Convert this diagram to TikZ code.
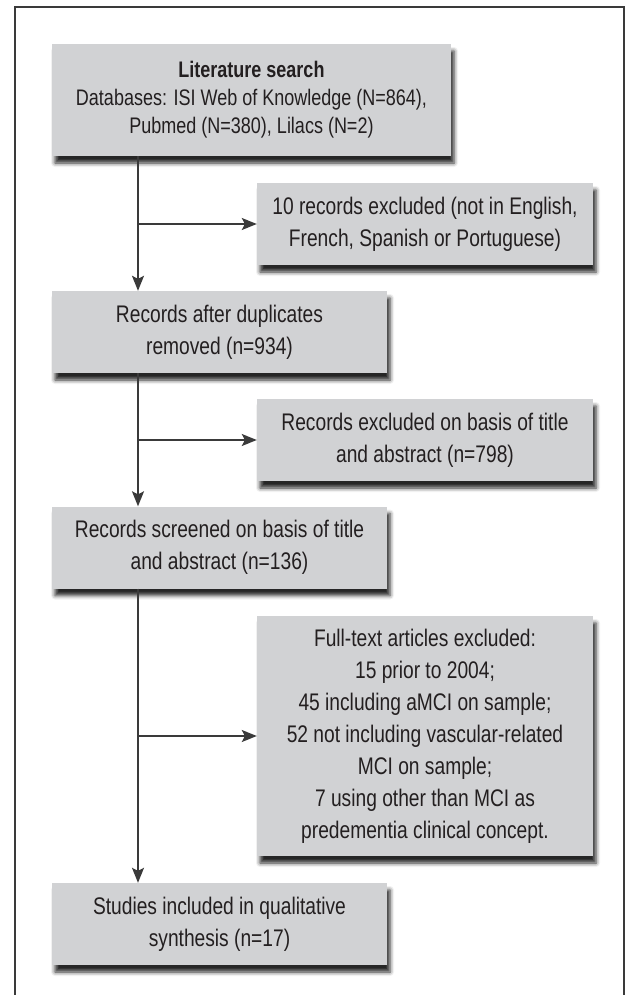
\documentclass[tikz,border=0pt]{standalone}
\usepackage{fontspec}
\setmainfont{Liberation Sans}[FakeStretch=0.8]
\usepackage{tikz}
\usetikzlibrary{arrows.meta, positioning, shadows.blur}
\definecolor{boxgray}{HTML}{D1D2D4}
\definecolor{inkgray}{HTML}{231F20}
\definecolor{linegray}{HTML}{3A3A3A}
\tikzset{>={Stealth[length=15pt,width=12pt,inset=3pt]}}
\tikzset{
  flowbox/.style={fill=boxgray, text=inkgray, align=center, inner sep=0pt,
    font=\fontsize{24}{32}\selectfont,
    blur shadow={shadow xshift=3pt, shadow yshift=-7pt, shadow blur radius=4pt, shadow opacity=85}},
  leftbox/.style={flowbox, minimum width=335pt, minimum height=82pt},
  rightbox/.style={flowbox, minimum width=336pt, minimum height=82pt},
  flowline/.style={draw=linegray, line width=1.4pt}
}
\begin{document}
\begin{tikzpicture}[x=1pt, y=-1pt]
        \useasboundingbox (0,0) rectangle (630,995);
        \draw[line width=1.6pt, draw=linegray] (15,996) -- (15,7) -- (624,7) -- (624,996);

        \node[flowbox, minimum width=399pt, minimum height=112pt, font=\fontsize{22.5}{28}\selectfont] (search) at (251.5,100)
          {\textbf{Literature search}\\Databases: ISI Web of Knowledge (N=864),\\Pubmed (N=380), Lilacs (N=2)};
        \node[rightbox] (lang) at (425,224) {10 records excluded (not in English,\\French, Spanish or Portuguese)};
        \node[leftbox] (dup) at (219.5,332) {Records after duplicates\\removed (n=934)};
        \node[rightbox] (title) at (425,440) {Records excluded on basis of title\\and abstract (n=798)};
        \node[leftbox] (screen) at (219.5,547.5) {Records screened on basis of title\\and abstract (n=136)};
        \node[rightbox, minimum height=240pt] (full) at (425,736)
          {Full-text articles excluded:\\15 prior to 2004;\\45 including aMCI on sample;\\52 not including vascular-related\\MCI on sample;\\7 using other than MCI as\\predementia clinical concept.};
        \node[leftbox] (incl) at (219.5,924) {Studies included in qualitative\\synthesis (n=17)};

        \coordinate (trunk) at (138,0);

        \draw[flowline, ->] (search.south -| trunk) -- (dup.north -| trunk);
        \draw[flowline, ->] (lang.west -| trunk) -- (lang.west);
        \draw[flowline, ->] (dup.south -| trunk) -- (screen.north -| trunk);
        \draw[flowline, ->] (title.west -| trunk) -- (title.west);
        \draw[flowline, ->] (screen.south -| trunk) -- (incl.north -| trunk);
        \draw[flowline, ->] (full.west -| trunk) -- (full.west);
\end{tikzpicture}
\end{document}
